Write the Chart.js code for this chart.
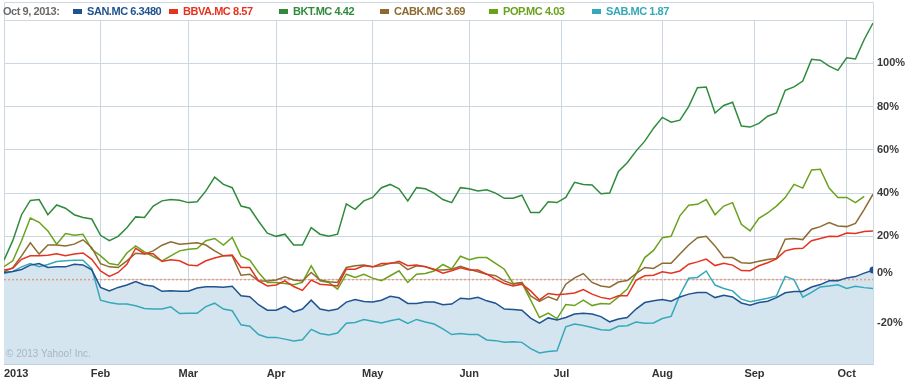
<!DOCTYPE html>
<html><head><meta charset="utf-8">
<script src="https://cdn.jsdelivr.net/npm/chart.js@4/dist/chart.umd.min.js"></script>
<style>
html,body{margin:0;padding:0;background:#fff;}
#wrap{position:relative;width:911px;height:380px;overflow:hidden;}
canvas{position:absolute;left:0;top:0;}
.lg{position:absolute;top:5px;font:bold 11px "Liberation Sans",Arial,sans-serif;white-space:nowrap;line-height:13px;letter-spacing:-0.45px;}
.sw{position:absolute;top:9px;width:9px;height:5px;}
#copy{position:absolute;left:6px;top:348px;font:10px "Liberation Sans",Arial,sans-serif;color:#a7b6c2;line-height:12px;white-space:nowrap;}
</style></head>
<body><div id="wrap"><canvas id="c" width="911" height="380"></canvas><div id="legend"></div><div id="copy">© 2013 Yahoo! Inc.</div></div>
<script>
// ---- data ----
const legendDate = 'Oct 9, 2013:';
const seriesNames = ['SAN.MC','BBVA.MC','BKT.MC','CABK.MC','POP.MC','SAB.MC'];
const lastPrices = ['6.3480','8.57','4.42','3.69','4.03','1.87'];
// trading-day index (every second session, Jan 2 = 0)
const dayIndex = [0,2,4,6,8,10,12,14,16,18,20,22,24,26,28,30,32,34,36,38,40,42,44,46,48,
50,52,54,56,58,60,62,64,66,68,70,72,74,76,78,80,82,84,86,88,90,92,94,96,98,
100,102,104,106,108,110,112,114,116,118,120,122,124,126,128,130,132,134,136,138,140,142,144,146,148,
150,152,154,156,158,160,162,164,166,168,170,172,174,176,178,180,182,184,186,188,190,192,194,196,198];
const monthTicks = [0,22,42,62,84,106,127,150,171,192,198];
const monthLabels = ['2013','Feb','Mar','Apr','May','Jun','Jul','Aug','Sep','Oct',''];
const yTicks = [-20,0,20,40,60,80,100];
const zeroLineX = [0,198];
const zeroLineY = [0,0];

const san = [3.3,3.8,4.7,6.7,7.4,5.6,5.9,5.9,7.1,6.8,4.5,-3.6,-5.2,-3.6,-2.5,-0.9,-2.5,-3.1,-5.4,-5.2,-5.4,-5.4,-3.9,-3.3,-3.3,
-3.5,-3.1,-7.5,-7.9,-11.6,-14.1,-14.1,-12.4,-14.9,-13.6,-9.5,-13.6,-14.4,-13.6,-10.4,-9.2,-10.1,-10.3,-9.5,-7.7,-8.4,-11,-11,-10.4,-10.4,
-11.6,-11.3,-8.6,-9,-8.2,-9.8,-10.9,-13.6,-13.8,-14.1,-17.8,-20.1,-17.7,-18.7,-17.5,-15.9,-15.6,-15.9,-17.1,-19.5,-18.2,-17.5,-13.6,-10.6,-9.8,
-9.2,-10,-8,-6.7,-6,-5.9,-8.3,-7.2,-8,-10.8,-11.8,-10.6,-10,-8.3,-6.1,-5.5,-5.5,-3.4,-2.3,-0.5,-0.5,0.8,1.4,3,4.4];
const bbva = [4.5,5.2,9.4,11,11,11.3,12,11,11.8,12.3,9.4,4,1.5,3.3,7.1,14.5,12,12,8.4,9.2,8.7,6.8,6.4,8.7,10,
11,11.4,5.6,5.6,-0.6,-2.9,-2.5,-0.6,-3.2,-5,-0.2,-2.1,-2.5,-2.9,4.8,4.8,6.4,5.9,7.4,7.4,8.5,6.4,6.8,5.9,4.8,
3,4.1,5.5,4.5,4.4,2.5,0.2,-1.8,-2.9,-2.1,-5.2,-9.4,-6.4,-7,-6.7,-6.2,-4.6,-6.7,-8.2,-9,-7.5,-7.5,-0.3,1.8,2,
3.6,3,4,7.1,8.2,9.5,6.5,7.6,6.7,4.2,4.1,6.4,7.8,9.6,13.3,14.3,14.5,18,19,20,19.9,21.5,21.3,22.2,22.5];
const bkt = [9,18,30,36.6,37,30,34.5,33,30,28.7,28,20.5,18,20,24,29,28.7,34,36.4,37,36.7,35.6,36,41,47.4,
44,42.5,34,33,27,21.5,20,21,16,16,24,21,20,21,35,32.5,36.4,38,42.5,44,42,36.4,42.5,42,40,
37,35.6,42.5,42,41,41.5,40,37.6,37.6,39,31,31,36,35.6,38,45,44,43.7,39.7,40,50,54,59.4,64,70,
75,72.8,73.7,80,88.7,89,77,80.5,82,71,70.5,72.2,75.5,77,87.5,89.1,91.8,101.8,101.4,98.7,96.7,102.5,102,111,118.6];
const cabk = [3.6,5.5,11,17,11.8,16,16,15.6,16.4,18.4,14.8,7.4,5.9,5.6,8.7,12.2,11.8,13.3,15.9,17.5,16.4,16.7,17,16,13.3,
11,11,2,2.5,-0.6,-0.6,-0.2,1.3,-0.2,-0.6,3.3,-0.2,-1,-1.3,5.6,6.4,6.7,5.9,6.4,7.7,7.7,4.6,6.4,6.1,4.6,
4.4,4.8,6.2,4.8,3.6,2.5,1.8,-0.6,-2.1,-1.3,-7.5,-10.1,-7.9,-9.5,-2.1,0.8,2.8,-1.3,-2.9,-3.5,-1.1,-0.4,2.8,5.6,5.2,
7.6,7.6,11.8,16,19.4,20,15.6,10.2,10.2,7.8,7.6,8.5,9.3,9.8,18.7,19,18.5,23.3,24.5,26.4,24.8,24.5,26,32.5,39.5];
const pop = [6,8.7,18,28.5,26.5,22.5,16.4,21.3,20.5,21,14,11,7.4,6.8,12.3,15.6,12.8,10.7,8.7,11,13.3,14,14.4,18,19,
16,19.5,11,9,3.3,-1.3,-1.3,-1.8,-2.4,-1.3,6.4,-0.6,-1.3,-4.4,2.5,1,2.5,0.7,-0.5,1.8,4.1,-1.3,2.5,2.8,4,
7,5,10.8,9.2,10.2,10.2,7.5,4.8,-1.8,-1.5,-9.5,-17.5,-15.5,-18,-11.5,-12,-9.5,-12,-11,-11.3,-8,-4.4,2.5,10.2,13.5,
19.4,20,29.5,34.4,34.8,37,30,34,35.6,25.6,22.5,28.3,30.8,34,37.9,44,42.3,50.7,51,42.3,38,38,35.6,38.5,null];
const sab = [2.8,3.8,5.9,7.4,6,7,8.4,8.7,9,9,5.1,-9.5,-10.6,-11.3,-11.3,-12.1,-13.3,-13.6,-13.6,-12.6,-15.7,-15.6,-15.6,-12.5,-10.9,
-13.6,-14.4,-20.9,-21.5,-25.4,-26.7,-26.7,-27.5,-28.4,-27.8,-23,-24.9,-25.6,-24.7,-20.2,-19.8,-18.4,-19.2,-20,-19,-18.2,-20.2,-18.4,-19.6,-20.5,
-22.8,-25.4,-24.9,-25.4,-25.4,-27.9,-28.2,-28.9,-28.7,-29,-31.9,-33.9,-33.2,-32.9,-21.8,-20.5,-21.2,-22.1,-23.2,-23.4,-21.6,-21.3,-19.6,-20.2,-20,
-18,-17,-7.1,0.6,1,4,-2.5,-4.1,-5.2,-9,-10.2,-9.4,-8.6,-7.5,1.5,0,-8.1,-5.9,-3.4,-2.9,-2.4,-4.1,-3.1,-3.7,-4.1];

const seriesValues = [san,bbva,bkt,cabk,pop,sab];
const seriesColors = ['#1f538f','#e4331f','#2f8b3b','#8d6a2f','#6aa21c','#35a8ba'];

// ---- legend (HTML text) ----
const legendSwatchX = [73,169,279,380,489,592];
const lg = document.getElementById('legend');
const d = document.createElement('div');
d.className='lg'; d.style.left='3px'; d.style.color='#6a6a6a'; d.textContent=legendDate; lg.appendChild(d);
seriesNames.forEach((n,i)=>{
  const s=document.createElement('div'); s.className='sw'; s.style.left=legendSwatchX[i]+'px'; s.style.background=seriesColors[i]; lg.appendChild(s);
  const t=document.createElement('div'); t.className='lg'; t.style.left=(legendSwatchX[i]+14)+'px'; t.style.color=seriesColors[i];
  t.textContent=n+' '+lastPrices[i]; lg.appendChild(t);
});

// ---- chart ----
const pts = arr => dayIndex.map((x,i)=>({x:x,y:arr[i]}));
const gridColor = '#cad7e2';
const frame = {
  id:'frame',
  beforeDraw(chart){
    const {ctx, chartArea:a} = chart;
    ctx.save();
    ctx.fillStyle='#fff'; ctx.fillRect(0,0,chart.width,chart.height);
    ctx.strokeStyle='#cfd9e2'; ctx.lineWidth=1;
    ctx.beginPath();
    ctx.moveTo(Math.floor(a.left)+0.5,2.5); ctx.lineTo(Math.floor(a.right)+0.5,2.5);
    ctx.moveTo(Math.floor(a.left)+0.5,2.5); ctx.lineTo(Math.floor(a.left)+0.5,a.top);
    ctx.moveTo(Math.floor(a.right)+0.5,2.5); ctx.lineTo(Math.floor(a.right)+0.5,a.top);
    ctx.moveTo(a.left,Math.floor(a.top)+0.5); ctx.lineTo(a.right,Math.floor(a.top)+0.5);
    ctx.stroke(); ctx.restore();
  }
};

const datasets = seriesNames.map((n,i)=>({
  label:n, data:pts(seriesValues[i]), borderColor:seriesColors[i], borderWidth:1.5,
  pointRadius: i===0 ? (c=>c.dataIndex===dayIndex.length-1?3.5:0) : 0,
  pointBackgroundColor:seriesColors[i], pointBorderWidth:0,
  fill: i===0 ? 'start' : false, backgroundColor: i===0 ? '#d5e5f0' : 'transparent',
  tension:0, spanGaps:false
}));
datasets.push({label:'base', data:zeroLineX.map((x,i)=>({x:x,y:zeroLineY[i]})), borderColor:'#e79c86',
  borderWidth:1.5, borderDash:[2,2], pointRadius:0, fill:false});

new Chart(document.getElementById('c'), {
  type:'line',
  data:{datasets},
  plugins:[frame],
  options:{
    responsive:false, animation:false, devicePixelRatio:1,
    layout:{padding:{top:20,left:1,right:0,bottom:0}},
    plugins:{legend:{display:false}, tooltip:{enabled:false}, filler:{drawTime:'beforeDatasetsDraw'}},
    scales:{
      x:{type:'linear', min:0, max:198,
        afterBuildTicks:ax=>{ax.ticks=monthTicks.map(v=>({value:v}));},
        afterFit:ax=>{ax.height=16;},
        grid:{color:gridColor, drawTicks:false},
        border:{color:'#bfcfdc'},
        ticks:{autoSkip:false, maxRotation:0, align:'inner', padding:3, color:'#333',
          font:{family:'"Liberation Sans", Arial, sans-serif', size:11, weight:'bold'},
          callback:(v)=>{const k=monthTicks.indexOf(v); return k>=0?monthLabels[k]:'';}}
      },
      y:{position:'right', min:-39, max:120,
        afterBuildTicks:ax=>{ax.ticks=yTicks.map(v=>({value:v}));},
        afterFit:ax=>{ax.width=38;},
        grid:{color:gridColor, drawTicks:false},
        border:{color:'#cfd9e2'},
        ticks:{padding:4, color:'#3a3a3a',
          font:{family:'"Liberation Sans", Arial, sans-serif', size:11, weight:'bold'},
          callback:v=> v===0 ? ['0%',''] : v+'%'}
      }
    }
  }
});
</script>
</body></html>
